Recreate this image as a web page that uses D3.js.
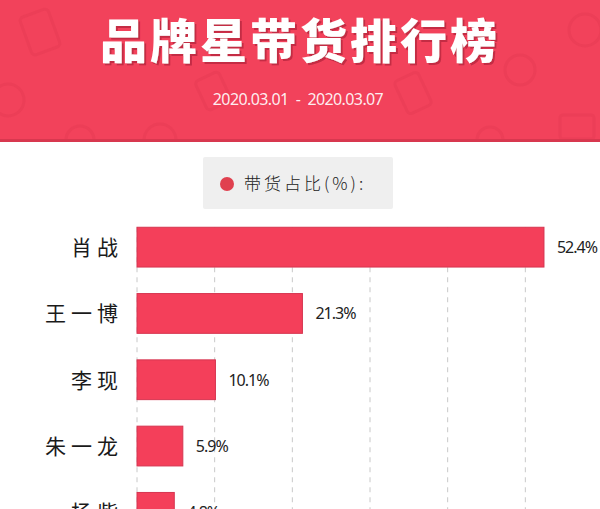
<!DOCTYPE html>
<html>
<head>
<meta charset="utf-8">
<script src="https://cdn.jsdelivr.net/npm/d3@7"></script>
<style>
  body { margin: 0; background: #fff; overflow: hidden; }
  svg { display: block; }
</style>
</head>
<body>
<div id="chart"></div>
<script>
// data
var names = ["肖战", "王一博", "李现", "朱一龙", "杨紫"];
var shares = [52.4, 21.3, 10.1, 5.9, 4.8];
var ticks = [0, 10, 20, 30, 40, 50];
var title = "品牌星带货排行榜";
var dateRange = "2020.03.01  -  2020.03.07";
var legendLabel = "带货占比(%):";

var width = 600, height = 509;
var red = "#f2425b";

var svg = d3.select("#chart").append("svg")
    .attr("width", width)
    .attr("height", height);

var defs = svg.append("defs");
defs.append("clipPath").attr("id", "headClip")
  .append("rect").attr("width", width).attr("height", 139);
var shadow = defs.append("filter").attr("id", "titleShadow")
    .attr("x", "-5%").attr("y", "-20%").attr("width", "110%").attr("height", "140%");
shadow.append("feDropShadow")
    .attr("dx", 2).attr("dy", 2).attr("stdDeviation", 0.6)
    .attr("flood-color", "#b8253c").attr("flood-opacity", 0.8);

// header band
var header = svg.append("g");
header.append("rect")
    .attr("width", width).attr("height", 142)
    .attr("fill", red);
header.append("rect")
    .attr("y", 139).attr("width", width).attr("height", 3)
    .attr("fill", "#d8384f");

// faint icons in the background of the header
var deco = header.append("g")
    .attr("clip-path", "url(#headClip)")
    .attr("fill", "none")
    .attr("stroke", "#d8344b")
    .attr("stroke-opacity", 0.22)
    .attr("stroke-width", 3);
deco.append("rect").attr("x", 25).attr("y", 12).attr("width", 30).attr("height", 40).attr("rx", 4).attr("transform", "rotate(-20 40 32)");
deco.append("circle").attr("cx", 8).attr("cy", 100).attr("r", 16);
deco.append("circle").attr("cx", 80).attr("cy", 140).attr("r", 14);
deco.append("circle").attr("cx", 160).attr("cy", 140).attr("r", 16);
deco.append("rect").attr("x", 200).attr("y", 75).attr("width", 26).attr("height", 32).attr("rx", 4).attr("transform", "rotate(-25 213 91)");
deco.append("rect").attr("x", 400).attr("y", 75).attr("width", 26).attr("height", 36).attr("rx", 4).attr("transform", "rotate(-25 413 93)");
deco.append("circle").attr("cx", 520).attr("cy", 70).attr("r", 15);
deco.append("circle").attr("cx", 585).attr("cy", 30).attr("r", 16);
deco.append("rect").attr("x", 560).attr("y", 115).attr("width", 34).attr("height", 24).attr("rx", 3);
deco.append("circle").attr("cx", 490).attr("cy", 140).attr("r", 13);

var titleFont = "'Noto Sans CJK SC', 'Noto Sans', sans-serif";
header.append("text")
    .attr("x", 300).attr("y", 58)
    .attr("text-anchor", "middle")
    .attr("font-family", titleFont)
    .attr("font-weight", 900)
    .attr("font-size", 47)
    .attr("letter-spacing", 3)
    .attr("fill", "#fff")
    .attr("filter", "url(#titleShadow)")
    .text(title);

header.append("text")
    .attr("x", 298).attr("y", 105)
    .attr("text-anchor", "middle")
    .attr("font-family", "'Noto Sans', sans-serif")
    .attr("font-size", 16)
    .attr("letter-spacing", -0.6)
    .attr("fill", "#fff")
    .attr("fill-opacity", 0.92)
    .style("white-space", "pre")
    .text(dateRange);

// legend
var legend = svg.append("g").attr("transform", "translate(203,157)");
legend.append("rect")
    .attr("width", 190).attr("height", 52)
    .attr("rx", 2)
    .attr("fill", "#efefef");
legend.append("circle")
    .attr("cx", 24).attr("cy", 27).attr("r", 7)
    .attr("fill", "#e0414f");
legend.append("text")
    .attr("x", 41).attr("y", 33)
    .attr("font-family", "'Noto Sans CJK SC', sans-serif")
    .attr("font-weight", 300)
    .attr("font-size", 17)
    .attr("letter-spacing", 3)
    .attr("fill", "#222")
    .text(legendLabel);

// scales
var x = d3.scaleLinear()
    .domain([0, 60])
    .range([137, 603]);

var y = d3.scaleBand()
    .domain(names)
    .range([214, 545.5])
    .paddingInner(0.4)
    .paddingOuter(0.2);

// dashed vertical grid
svg.append("g").selectAll("line")
    .data(ticks)
    .enter().append("line")
    .attr("x1", function(d) { return x(d); })
    .attr("x2", function(d) { return x(d); })
    .attr("y1", y(names[0]))
    .attr("y2", height)
    .attr("stroke", "#c8c8c8")
    .attr("stroke-width", 1)
    .attr("stroke-dasharray", "5,5");

// bars
var rows = names.map(function(n, i) { return { name: n, value: shares[i] }; });

svg.append("g").selectAll("rect")
    .data(rows)
    .enter().append("rect")
    .attr("x", x(0))
    .attr("y", function(d) { return y(d.name); })
    .attr("width", function(d) { return x(d.value) - x(0); })
    .attr("height", y.bandwidth())
    .attr("fill", "#f43f5a")
    .attr("stroke", "#d63550")
    .attr("stroke-width", 1);

// value labels
svg.append("g").selectAll("text")
    .data(rows)
    .enter().append("text")
    .attr("x", function(d) { return x(d.value) + 13; })
    .attr("y", function(d) { return y(d.name) + y.bandwidth() / 2 + 6; })
    .attr("font-family", "'Noto Sans', sans-serif")
    .attr("font-size", 16)
    .attr("letter-spacing", -1)
    .attr("fill", "#222")
    .text(function(d) { return d.value.toFixed(1) + "%"; });

// category labels
svg.append("g").selectAll("text")
    .data(rows)
    .enter().append("text")
    .attr("x", 123)
    .attr("y", function(d) { return y(d.name) + y.bandwidth() / 2 + 8; })
    .attr("text-anchor", "end")
    .attr("font-family", "'Noto Sans CJK SC', sans-serif")
    .attr("font-weight", 400)
    .attr("font-size", 21)
    .attr("letter-spacing", 5)
    .attr("fill", "#1a1a1a")
    .text(function(d) { return d.name; });
</script>
</body>
</html>
